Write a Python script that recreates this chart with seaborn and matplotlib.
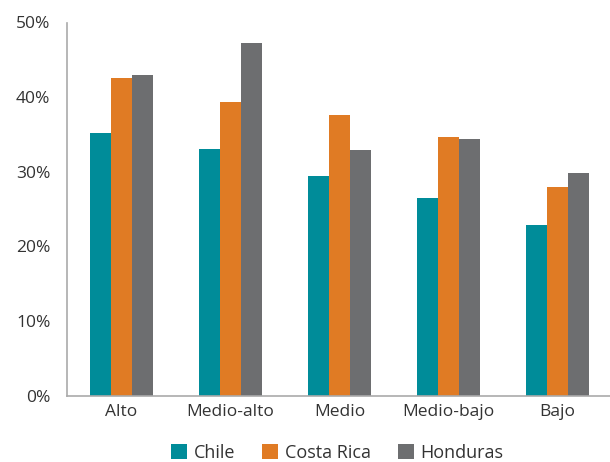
import pandas as pd
import matplotlib.pyplot as plt
import seaborn as sns
from matplotlib.ticker import FixedLocator, PercentFormatter

categories = ['Alto', 'Medio-alto', 'Medio', 'Medio-bajo', 'Bajo']
chile = [35.2, 33.0, 29.4, 26.5, 22.9]
costa_rica = [42.6, 39.3, 37.6, 34.6, 28.0]
honduras = [43.0, 47.2, 32.9, 34.4, 29.8]
countries = ['Chile', 'Costa Rica', 'Honduras']
colors = ['#008C99', '#E07B24', '#6D6E70']

data = pd.DataFrame({
    'nivel': categories * 3,
    'pais': [c for c in countries for _ in categories],
    'valor': chile + costa_rica + honduras,
})

sns.set_style('white')
plt.rcParams['font.family'] = ['Open Sans', 'DejaVu Sans']

fig = plt.figure(figsize=(6.10, 4.62), dpi=100)
# axis line runs to the right edge of the picture
ax = fig.add_axes([67 / 610, 1 - 395.5 / 462, 545 / 610, 373 / 462])

sns.barplot(data=data, x='nivel', y='valor', hue='pais', palette=colors,
            width=0.57, saturation=1, linewidth=0, ax=ax)

ax.set_ylim(0, 50)
ax.set_xlim(-0.5, 4.5)
ax.set_yticks([0, 10, 20, 30, 40, 50])
ax.yaxis.set_major_formatter(PercentFormatter(decimals=0))
ax.set_xlabel('')
ax.set_ylabel('')

# ticks at category boundaries
ax.xaxis.set_minor_locator(FixedLocator([-0.5, 0.5, 1.5, 2.5, 3.5, 4.5]))
ax.tick_params(axis='x', which='major', length=0, labelsize=12.5, colors='#333333', pad=6)
ax.tick_params(axis='x', which='minor', length=6.5, color='#AAAAAA', width=1.2)
ax.tick_params(axis='y', length=8, width=1.2, labelsize=12.5, colors='#333333', pad=4)
ax.tick_params(axis='y', color='#AAAAAA')

for s in ['top', 'right']:
    ax.spines[s].set_visible(False)
for s in ['left', 'bottom']:
    ax.spines[s].set_color('#AAAAAA')
    ax.spines[s].set_linewidth(1.2)

handles, labels = ax.get_legend_handles_labels()
ax.get_legend().remove()
fig.legend(handles, labels, loc='center', bbox_to_anchor=(337 / 610, 1 - 453 / 462), ncol=3,
           frameon=False, fontsize=13, handlelength=0.9, handleheight=0.9,
           handletextpad=0.35, columnspacing=1.5, labelcolor='#333333',
           borderpad=0, borderaxespad=0)

plt.savefig('out.png', dpi=100)
plt.close()
